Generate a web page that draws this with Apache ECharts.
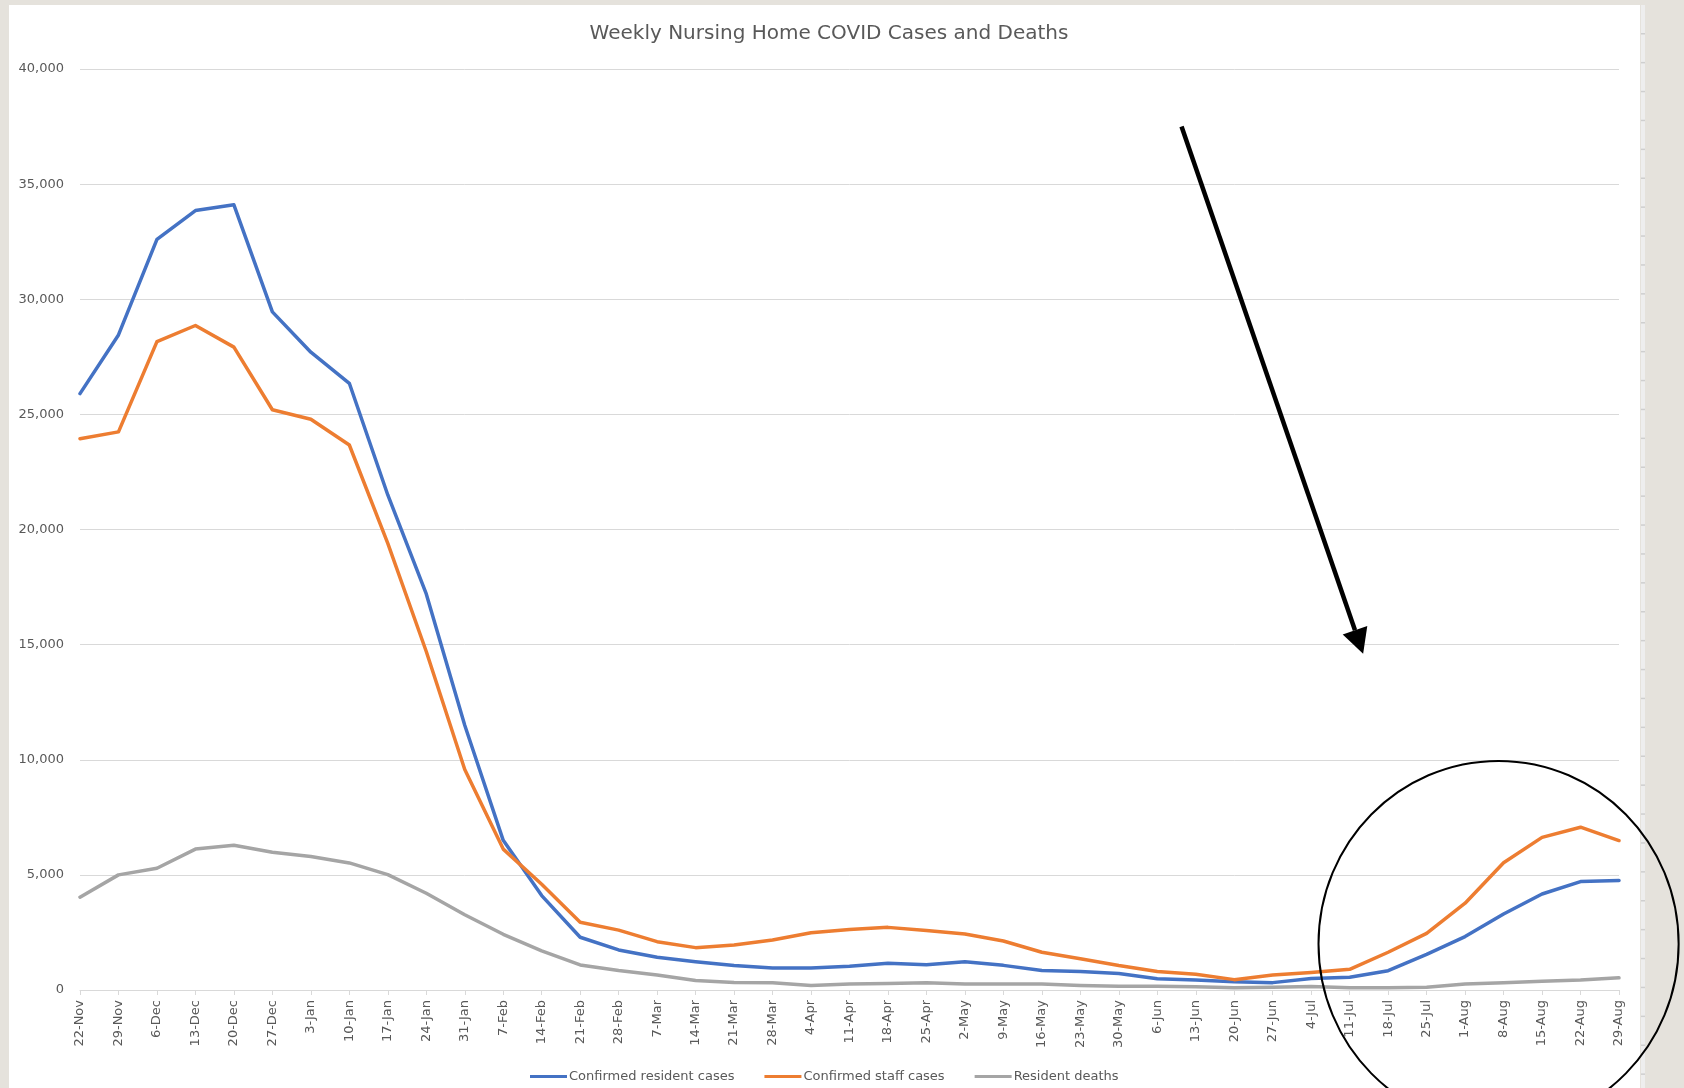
<!DOCTYPE html>
<html>
<head>
<meta charset="utf-8">
<title>Weekly Nursing Home COVID Cases and Deaths</title>
<script src="https://cdn.jsdelivr.net/npm/echarts@6/dist/echarts.min.js"></script>
<style>
  html, body { margin: 0; padding: 0; background: #e5e2dc; }
  #chart { width: 1684px; height: 1088px; }
</style>
</head>
<body>
<div id="chart"></div>
<script>
// Week-ending dates
const weeks = [
  '22-Nov', '29-Nov', '6-Dec', '13-Dec', '20-Dec', '27-Dec', '3-Jan', '10-Jan',
  '17-Jan', '24-Jan', '31-Jan', '7-Feb', '14-Feb', '21-Feb', '28-Feb', '7-Mar',
  '14-Mar', '21-Mar', '28-Mar', '4-Apr', '11-Apr', '18-Apr', '25-Apr', '2-May',
  '9-May', '16-May', '23-May', '30-May', '6-Jun', '13-Jun', '20-Jun', '27-Jun',
  '4-Jul', '11-Jul', '18-Jul', '25-Jul', '1-Aug', '8-Aug', '15-Aug', '22-Aug', '29-Aug'
];

const residentCases = [
  25900, 28450, 32600, 33850, 34100, 29450, 27700, 26350,
  21500, 17200, 11500, 6500, 4100, 2290, 1740, 1420,
  1230, 1060, 960, 960, 1030, 1160, 1100, 1230,
  1070, 850, 800, 720, 490, 430, 360, 320,
  500, 550, 840, 1550, 2320, 3300, 4170, 4710, 4760
];

const staffCases = [
  23940, 24240, 28160, 28860, 27920, 25200, 24790, 23670,
  19400, 14700, 9580, 6120, 4590, 2940, 2600, 2100,
  1840, 1950, 2170, 2490, 2630, 2720, 2580, 2430,
  2130, 1640, 1360, 1060, 800, 680, 450, 650,
  760, 900, 1640, 2460, 3770, 5530, 6630, 7070, 6490
];

const residentDeaths = [
  4030, 5000, 5290, 6120, 6290, 5980, 5800, 5520,
  5010, 4200, 3270, 2420, 1700, 1090, 850, 650,
  410, 330, 320, 200, 260, 280, 320, 260,
  260, 260, 200, 160, 160, 145, 100, 115,
  150, 100, 100, 115, 260, 320, 380, 430, 530
];

const seriesNames = ['Confirmed resident cases', 'Confirmed staff cases', 'Resident deaths'];
const seriesColors = ['#4472C4', '#ED7D31', '#A5A5A5'];

// Value axis range
const yMin = 0;
const yMax = 40000;
const yStep = 5000;

// Hand-drawn callouts, anchored in [week index, value] space
const arrowFrom = [28.63, 37500];
const arrowTo = [33.35, 14600];
const ringCenter = [36.87, 2000];
const ringHalfWeeks = 4.68;
const ringHalfValue = 7950;

const FONT = 'DejaVu Sans';
const TEXT = '#595959';
const GRID = '#d9d9d9';

const chart = echarts.init(document.getElementById('chart'), null, { renderer: 'canvas' });

function makeSeries(name, data, color) {
  return {
    name: name,
    type: 'line',
    data: data,
    symbol: 'none',
    smooth: false,
    lineStyle: { width: 3.5, color: color, cap: 'round', join: 'round' },
    itemStyle: { color: color }
  };
}

chart.setOption({
  backgroundColor: 'transparent',
  animation: false,
  color: seriesColors,
  title: {
    text: 'Weekly Nursing Home COVID Cases and Deaths',
    left: 824,
    textAlign: 'center',
    top: 19,
    textStyle: { fontFamily: FONT, fontSize: 20, fontWeight: 'normal', color: TEXT }
  },
  legend: {
    left: 525,
    top: 1065,
    icon: 'rect',
    itemWidth: 37,
    itemHeight: 3,
    itemGap: 30,
    textStyle: { fontFamily: FONT, fontSize: 13, color: TEXT, padding: [0, 0, 0, -3] },
    data: seriesNames
  },
  grid: { left: 80, right: 65, top: 69, bottom: 98, containLabel: false },
  xAxis: {
    type: 'category',
    data: weeks,
    boundaryGap: false,
    axisLine: { lineStyle: { color: GRID, width: 1 } },
    axisTick: { show: true, length: 5, lineStyle: { color: GRID } },
    axisLabel: {
      interval: 0,
      rotate: 90,
      margin: 10,
      fontFamily: FONT,
      fontSize: 13,
      color: TEXT
    },
    splitLine: { show: false }
  },
  yAxis: {
    type: 'value',
    min: yMin,
    max: yMax,
    interval: yStep,
    axisLine: { show: false },
    axisTick: { show: false },
    axisLabel: {
      margin: 16,
      fontFamily: FONT,
      fontSize: 13,
      color: TEXT,
      formatter: v => v.toLocaleString('en-US')
    },
    splitLine: { lineStyle: { color: GRID, width: 1 } }
  },
  series: [
    makeSeries(seriesNames[0], residentCases, seriesColors[0]),
    makeSeries(seriesNames[1], staffCases, seriesColors[1]),
    makeSeries(seriesNames[2], residentDeaths, seriesColors[2])
  ]
});

// Category axes snap to whole weeks, so fractional positions are
// interpolated between the two neighbouring week positions.
function px(pt) {
  const i0 = Math.floor(pt[0]);
  const f = pt[0] - i0;
  const p0 = chart.convertToPixel({ xAxisIndex: 0, yAxisIndex: 0 }, [i0, pt[1]]);
  const p1 = chart.convertToPixel({ xAxisIndex: 0, yAxisIndex: 0 }, [i0 + 1, pt[1]]);
  return [p0[0] + (p1[0] - p0[0]) * f, p0[1]];
}

const a0 = px(arrowFrom);
const a1 = px(arrowTo);
const dx = a1[0] - a0[0];
const dy = a1[1] - a0[1];
const len = Math.sqrt(dx * dx + dy * dy);
const ux = dx / len, uy = dy / len;
const headLen = 25, headHalf = 13;
const base = [a1[0] - ux * headLen, a1[1] - uy * headLen];
const headPts = [
  a1,
  [base[0] - uy * headHalf, base[1] + ux * headHalf],
  [base[0] + uy * headHalf, base[1] - ux * headHalf]
];

const c = px(ringCenter);
const rx = px([ringCenter[0] + ringHalfWeeks, ringCenter[1]])[0] - c[0];
const ry = c[1] - px([ringCenter[0], ringCenter[1] + ringHalfValue])[1];

const edgeMarks = [];
for (let y = 33; y < 1088; y += 28.9) {
  edgeMarks.push({
    type: 'rect',
    shape: { x: 1641, y: y, width: 4, height: 1.5 },
    style: { fill: '#cfcfcf' },
    z: -9,
    silent: true
  });
}

chart.setOption({
  graphic: [
    {
      type: 'rect',
      shape: { x: 9, y: 5, width: 1631, height: 1083 },
      style: { fill: '#ffffff' },
      z: -10,
      silent: true
    },
    {
      type: 'rect',
      shape: { x: 1641, y: 5, width: 4, height: 1083 },
      style: { fill: '#eeeeee' },
      z: -10,
      silent: true
    }
  ].concat(edgeMarks).concat([
    {
      type: 'line',
      shape: { x1: a0[0], y1: a0[1], x2: base[0], y2: base[1] },
      style: { stroke: '#000000', lineWidth: 4.5 },
      z: 50,
      silent: true
    },
    {
      type: 'polygon',
      shape: { points: headPts },
      style: { fill: '#000000' },
      z: 50,
      silent: true
    },
    {
      type: 'ellipse',
      shape: { cx: c[0], cy: c[1], rx: rx, ry: ry },
      style: { fill: 'none', stroke: '#000000', lineWidth: 2 },
      z: 50,
      silent: true
    }
  ])
});
</script>
</body>
</html>
